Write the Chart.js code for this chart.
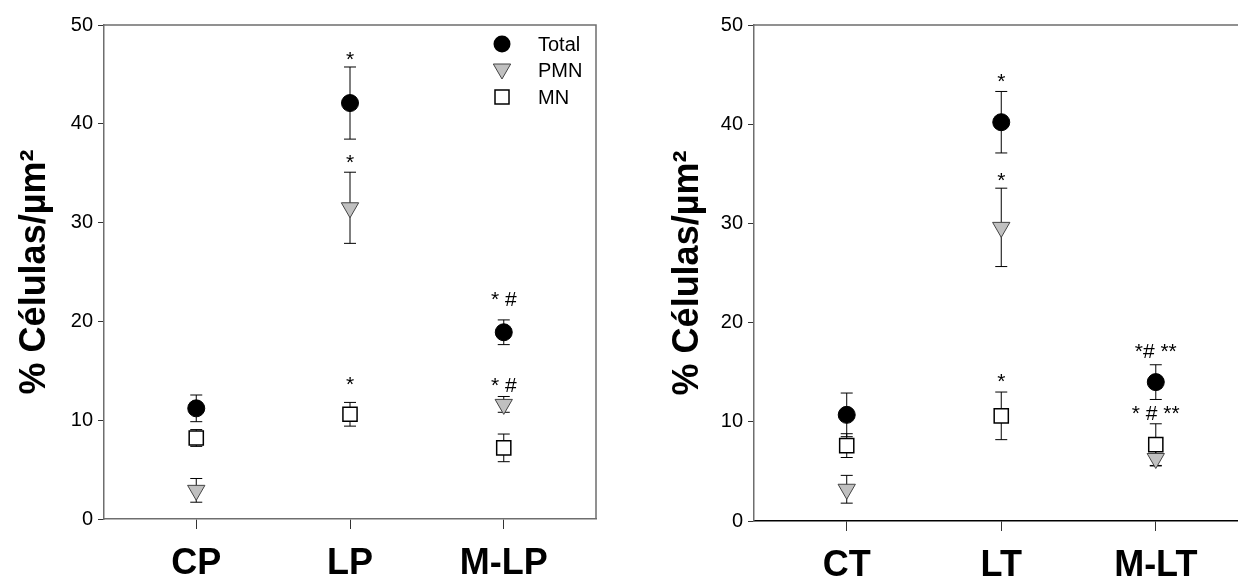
<!DOCTYPE html>
<html>
<head>
<meta charset="utf-8">
<script src="https://cdn.jsdelivr.net/npm/chart.js@4.4.0/dist/chart.umd.min.js"></script>
<style>
  body { margin:0; background:#fff; overflow:hidden; width:1238px; height:578px; position:relative; }
  canvas { position:absolute; top:0; }
  #left { left:0; }
  #right { left:620px; }
</style>
</head>
<body>
<canvas id="left" width="620" height="578"></canvas>
<canvas id="right" width="640" height="578"></canvas>
<script>
var FONT = "'Liberation Sans', Arial, sans-serif";

// left panel
var leftCats = ["CP", "LP", "M-LP"];
var leftTotal = [11.2, 42.1, 18.9];
var leftTotalErr = [1.35, 3.65, 1.25];
var leftPMN = [2.9, 31.5, 11.6];
var leftPMNErr = [1.2, 3.6, 0.8];
var leftMN = [8.2, 10.6, 7.2];
var leftMNErr = [0.85, 1.2, 1.4];
var leftNoteCats = [2, 2, 2, 3, 3];
var leftNoteVals = [45.9, 35.4, 13.0, 21.6, 12.9];
var leftNoteTexts = ["*", "*", "*", "* #", "* #"];

// right panel
var rightCats = ["CT", "LT", "M-LT"];
var rightTotal = [10.7, 40.2, 14.0];
var rightTotalErr = [2.2, 3.1, 1.75];
var rightPMN = [3.2, 29.6, 6.3];
var rightPMNErr = [1.4, 3.95, 0.75];
var rightMN = [7.6, 10.6, 7.7];
var rightMNErr = [1.2, 2.4, 2.1];
var rightNoteCats = [2, 2, 2, 3, 3];
var rightNoteVals = [43.6, 33.7, 13.4, 16.4, 10.2];
var rightNoteTexts = ["*", "*", "*", "*# **", "* # **"];

var seriesNames = ["Total", "PMN", "MN"];
var yTicks = [0, 10, 20, 30, 40, 50];

function pts(vals) {
  return vals.map(function(v, i){ return {x: i + 1, y: v}; });
}

// error bars, drawn under the markers
var errorBars = {
  id: "errorBars",
  beforeDatasetsDraw: function(chart) {
    var ctx = chart.ctx, y = chart.scales.y;
    ctx.save();
    ctx.strokeStyle = "#000";
    ctx.lineWidth = 1;
    chart.data.datasets.forEach(function(ds, i){
      var meta = chart.getDatasetMeta(i);
      ds.data.forEach(function(p, j){
        var x = meta.data[j].x;
        var top = y.getPixelForValue(p.y + ds.errors[j]);
        var bot = y.getPixelForValue(p.y - ds.errors[j]);
        ctx.beginPath();
        ctx.moveTo(x, top); ctx.lineTo(x, bot);
        ctx.moveTo(x - 6, top); ctx.lineTo(x + 6, top);
        ctx.moveTo(x - 6, bot); ctx.lineTo(x + 6, bot);
        ctx.stroke();
      });
    });
    ctx.restore();
  }
};

// top and right edges of the frame, plus the significance marks
var frameNotes = {
  id: "frameNotes",
  afterDraw: function(chart) {
    var ctx = chart.ctx, a = chart.chartArea;
    var o = chart.options.plugins.frameNotes;
    ctx.save();
    ctx.strokeStyle = "#6e6e6e";
    ctx.lineWidth = 1.5;
    ctx.beginPath();
    ctx.moveTo(a.left, a.top); ctx.lineTo(a.right, a.top); ctx.lineTo(a.right, a.bottom);
    ctx.stroke();
    ctx.fillStyle = "#000";
    ctx.font = "21px " + FONT;
    ctx.textAlign = "center";
    ctx.textBaseline = "alphabetic";
    o.texts.forEach(function(t, i){
      var x = chart.scales.x.getPixelForValue(o.cats[i]);
      var yy = chart.scales.y.getPixelForValue(o.vals[i]);
      ctx.fillText(t, x, yy);
    });
    ctx.restore();
  }
};

// legend inside the left plot
var insideLegend = {
  id: "insideLegend",
  afterDraw: function(chart) {
    if (!chart.options.plugins.insideLegend.show) return;
    var ctx = chart.ctx;
    var mx = 502, tx = 538, rows = [44, 70, 97];
    ctx.save();
    // circle
    ctx.fillStyle = "#000";
    ctx.beginPath(); ctx.arc(mx, rows[0], 8.5, 0, Math.PI * 2); ctx.fill();
    // down triangle
    ctx.fillStyle = "#c0c0c0"; ctx.strokeStyle = "#444"; ctx.lineWidth = 1;
    ctx.beginPath();
    ctx.moveTo(mx - 8.7, rows[1] - 6); ctx.lineTo(mx + 8.7, rows[1] - 6); ctx.lineTo(mx, rows[1] + 9);
    ctx.closePath(); ctx.fill(); ctx.stroke();
    // square
    ctx.fillStyle = "#fff"; ctx.strokeStyle = "#000"; ctx.lineWidth = 1.5;
    ctx.fillRect(mx - 7, rows[2] - 7, 14, 14); ctx.strokeRect(mx - 7, rows[2] - 7, 14, 14);
    ctx.fillStyle = "#000";
    ctx.font = "20px " + FONT;
    ctx.textAlign = "left"; ctx.textBaseline = "middle";
    seriesNames.forEach(function(n, i){ ctx.fillText(n, tx, rows[i] + 1); });
    ctx.restore();
  }
};

function makeChart(id, cats, total, totalErr, pmn, pmnErr, mn, mnErr, notes, lay) {
  return new Chart(document.getElementById(id), {
    type: "scatter",
    data: {
      datasets: [
        { label: seriesNames[0], data: pts(total), errors: totalErr,
          pointStyle: "circle", pointRadius: 8.5, backgroundColor: "#000", borderColor: "#000", borderWidth: 1 },
        { label: seriesNames[1], data: pts(pmn), errors: pmnErr,
          pointStyle: "triangle", rotation: 180, pointRadius: 10, backgroundColor: "#c0c0c0", borderColor: "#444", borderWidth: 1 },
        { label: seriesNames[2], data: pts(mn), errors: mnErr,
          pointStyle: "rect", pointRadius: 10, backgroundColor: "#fff", borderColor: "#000", borderWidth: 1.5 }
      ]
    },
    options: {
      responsive: false,
      animation: false,
      events: [],
      layout: { padding: { top: 25, right: lay.padRight, left: 0, bottom: 0 } },
      plugins: {
        legend: { display: false },
        tooltip: { enabled: false },
        frameNotes: notes,
        insideLegend: { show: lay.legend }
      },
      scales: {
        x: {
          type: "linear", min: 0.4, max: 3.6,
          afterBuildTicks: function(s){ s.ticks = cats.map(function(c, i){ return {value: i + 1}; }); },
          afterFit: function(s){ s.height = lay.xHeight; },
          grid: { drawOnChartArea: false, tickLength: 10, color: "#333", lineWidth: 1 },
          border: { color: lay.bottomColor, width: 1.5 },
          ticks: {
            callback: function(v){ return cats[v - 1] || ""; },
            font: { family: FONT, size: 36, weight: "bold" }, color: "#000",
            padding: 13, maxRotation: 0, autoSkip: false
          }
        },
        y: {
          min: 0, max: 50,
          afterBuildTicks: function(s){ s.ticks = yTicks.map(function(v){ return {value: v}; }); },
          afterFit: function(s){ s.width = lay.yWidth; },
          grid: { drawOnChartArea: false, tickLength: 6, color: "#333", lineWidth: 1 },
          border: { color: "#6e6e6e", width: 1.5 },
          ticks: { font: { family: FONT, size: 20 }, color: "#000", padding: 5 },
          title: {
            display: true, text: "% Células/µm²", color: "#000",
            font: { family: FONT, size: 36, weight: "bold" },
            padding: { top: lay.titlePad, bottom: 0 }
          }
        }
      }
    },
    plugins: [errorBars, frameNotes, insideLegend]
  });
}

makeChart("left", leftCats, leftTotal, leftTotalErr, leftPMN, leftPMNErr, leftMN, leftMNErr,
  { cats: leftNoteCats, vals: leftNoteVals, texts: leftNoteTexts },
  { yWidth: 104, xHeight: 59, padRight: 24, titlePad: 13, bottomColor: "#6e6e6e", legend: true });

makeChart("right", rightCats, rightTotal, rightTotalErr, rightPMN, rightPMNErr, rightMN, rightMNErr,
  { cats: rightNoteCats, vals: rightNoteVals, texts: rightNoteTexts },
  { yWidth: 134, xHeight: 57, padRight: 10, titlePad: 46, bottomColor: "#000", legend: false });
</script>
</body>
</html>
